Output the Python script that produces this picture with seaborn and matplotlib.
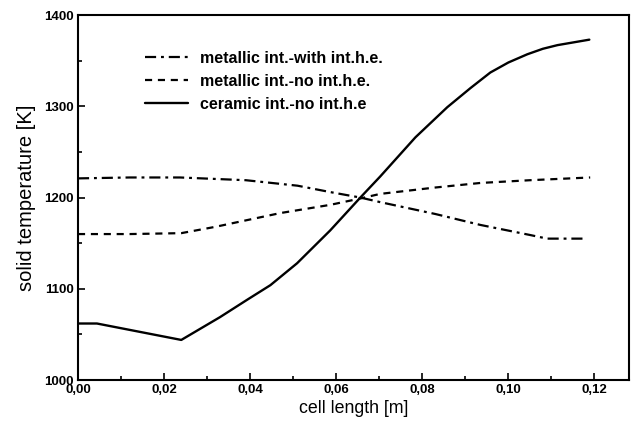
import matplotlib
matplotlib.use("Agg")
import matplotlib.pyplot as plt
import seaborn as sns
import pandas as pd
from matplotlib.ticker import FixedLocator, MultipleLocator

# ---- data ----
x_metal_with = [0.0, 0.012, 0.0237, 0.039, 0.051, 0.0586, 0.0656, 0.0702, 0.083, 0.0935, 0.105, 0.109, 0.118]
T_metal_with = [1221, 1222, 1222, 1219, 1213, 1206, 1200, 1195, 1182, 1170, 1159, 1155, 1155]

x_metal_no = [0.0, 0.012, 0.024, 0.032, 0.040, 0.047, 0.0586, 0.0656, 0.0702, 0.083, 0.0935, 0.105, 0.119]
T_metal_no = [1160, 1160, 1161, 1168, 1176, 1183, 1192, 1199, 1204, 1211, 1216, 1219, 1222]

x_ceramic = [0.0, 0.0044, 0.024, 0.033, 0.0393, 0.0447, 0.0509, 0.0586, 0.0656, 0.0702,
             0.0784, 0.0858, 0.0912, 0.0958, 0.1000, 0.1044, 0.1080, 0.1114, 0.1188]
T_ceramic = [1062, 1062, 1044, 1069, 1088, 1104, 1128, 1164, 1200, 1223,
             1266, 1299, 1320, 1337, 1348, 1357, 1363, 1367, 1373]

series_names = ["metallic int.-with int.h.e.", "metallic int.-no int.h.e.", "ceramic int.-no int.h.e"]

x_ticks = [0.00, 0.02, 0.04, 0.06, 0.08, 0.10, 0.12]
x_tick_labels = ["0,00", "0,02", "0,04", "0,06", "0,08", "0,10", "0,12"]
y_ticks = [1000, 1100, 1200, 1300, 1400]
y_tick_labels = ["1000", "1100", "1200", "1300", "1400"]

x_label = "cell length [m]"
y_label = "solid temperature [K]"

# ---- build table ----
frames = []
for name, xs, ts in zip(series_names,
                        [x_metal_with, x_metal_no, x_ceramic],
                        [T_metal_with, T_metal_no, T_ceramic]):
    frames.append(pd.DataFrame({"x": xs, "T": ts, "series": name}))
df = pd.concat(frames, ignore_index=True)

sns.set_theme(style="white")
plt.rcParams["font.family"] = ["Liberation Sans", "DejaVu Sans"]

fig = plt.figure(figsize=(6.34, 4.29), dpi=100)
ax = fig.add_axes([0.123, 0.114, 0.869, 0.851])

styles = {
    series_names[0]: (0, (5, 2.2, 1.3, 2.2)),
    series_names[1]: (0, (3.2, 2.6)),
    series_names[2]: "-",
}
widths = {series_names[0]: 1.6, series_names[1]: 1.6, series_names[2]: 1.7}

for name in series_names:
    sub = df[df["series"] == name]
    sns.lineplot(data=sub, x="x", y="T", ax=ax, color="black",
                 linestyle=styles[name], linewidth=widths[name],
                 label=name, sort=False, estimator=None)

ax.set_xlim(0, 0.128)
ax.set_ylim(1000, 1400)

ax.xaxis.set_major_locator(FixedLocator(x_ticks))
ax.set_xticklabels(x_tick_labels)
ax.xaxis.set_minor_locator(MultipleLocator(0.01))
ax.yaxis.set_major_locator(FixedLocator(y_ticks))
ax.set_yticklabels(y_tick_labels)
ax.yaxis.set_minor_locator(MultipleLocator(50))

ax.tick_params(which="both", direction="in", color="black", width=1.2,
               bottom=True, left=True, top=False, right=False)
ax.tick_params(which="major", length=5, labelsize=9.5, pad=3)
ax.tick_params(which="minor", length=3)
for lab in ax.get_xticklabels() + ax.get_yticklabels():
    lab.set_fontweight("bold")
    lab.set_color("black")

for sp in ax.spines.values():
    sp.set_color("black")
    sp.set_linewidth(1.5)
    sp.set_visible(True)

ax.set_xlabel(x_label, fontsize=12.8, color="black", labelpad=3)
ax.set_ylabel(y_label, fontsize=14.5, color="black", labelpad=6)

leg = ax.legend(loc="upper left", bbox_to_anchor=(0.11, 0.92), frameon=False,
                fontsize=11.5, handlelength=2.7, handletextpad=0.75,
                labelspacing=0.5, borderaxespad=0)
for t in leg.get_texts():
    t.set_fontweight("bold")
    t.set_color("black")

fig.savefig("out.png", dpi=100, facecolor="white")
